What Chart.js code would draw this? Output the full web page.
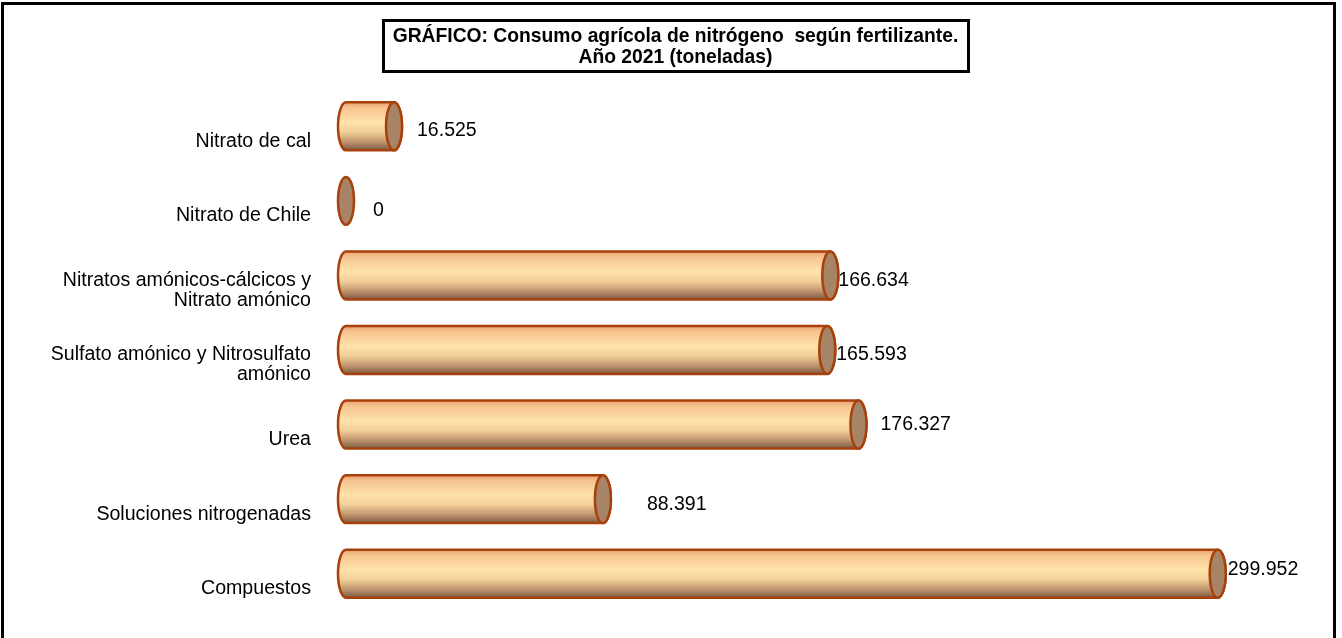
<!DOCTYPE html>
<html>
<head>
<meta charset="utf-8">
<script src="https://cdn.jsdelivr.net/npm/chart.js@4/dist/chart.umd.min.js"></script>
<style>
  html, body { margin: 0; padding: 0; background: #fff; width: 1342px; height: 638px; overflow: hidden; }
  #frame { position: absolute; left: 1px; top: 2px; width: 1335px; height: 700px; border: 3px solid #000; box-sizing: border-box; }
  #wrap { position: absolute; left: 0; top: 0; width: 1342px; height: 638px; }
</style>
</head>
<body>
<div id="frame"></div>
<div id="wrap"><canvas id="c" width="1342" height="638"></canvas></div>
<script>
const categories = [
  'Nitrato de cal',
  'Nitrato de Chile',
  ['Nitratos amónicos-cálcicos y', 'Nitrato amónico'],
  ['Sulfato amónico y Nitrosulfato', 'amónico'],
  'Urea',
  'Soluciones nitrogenadas',
  'Compuestos'
];
const values = [16.525, 0, 166.634, 165.593, 176.327, 88.391, 299.952];
const valueLabels = ['16.525', '0', '166.634', '165.593', '176.327', '88.391', '299.952'];
const titleLines = ['GRÁFICO: Consumo agrícola de nitrógeno  según fertilizante.', 'Año 2021 (toneladas)'];
// label placement offsets (px) relative to the bar end, as in the original
const labelDx = [23, 27, 8, 9, 22, 44, 10];
const labelDy = [4, 10, 5, 5, 0, 5, -4];

const FONT = '"Liberation Sans", Arial, sans-serif';

const cylinderPlugin = {
  id: 'cylinders',
  afterDatasetsDraw(chart) {
    const ctx = chart.ctx;
    const meta = chart.getDatasetMeta(0);
    const rx = 8;
    meta.data.forEach((bar, i) => {
      const { x, y, base, height } = bar.getProps(['x', 'y', 'base', 'height'], true);
      const ry = height / 2;
      const top = y - ry, bot = y + ry;
      ctx.save();
      ctx.lineWidth = 2.5;
      ctx.strokeStyle = '#A8400C';
      if (x - base > 0.5) {
        const g = ctx.createLinearGradient(0, top, 0, bot);
        g.addColorStop(0, '#E8A070');
        g.addColorStop(0.12, '#F6C490');
        g.addColorStop(0.42, '#FFE3A9');
        g.addColorStop(0.62, '#F2CF98');
        g.addColorStop(0.82, '#C19670');
        g.addColorStop(1, '#7A5A42');
        ctx.beginPath();
        ctx.moveTo(base, top);
        ctx.lineTo(x, top);
        ctx.ellipse(x, y, rx, ry, 0, -Math.PI / 2, Math.PI / 2, false);
        ctx.lineTo(base, bot);
        ctx.ellipse(base, y, rx, ry, 0, Math.PI / 2, Math.PI * 1.5, false);
        ctx.closePath();
        ctx.fillStyle = g;
        ctx.fill();
        ctx.stroke();
      }
      ctx.beginPath();
      ctx.ellipse(x, y, rx, ry, 0, 0, Math.PI * 2);
      ctx.fillStyle = '#A88466';
      ctx.fill();
      ctx.stroke();
      // value label
      ctx.fillStyle = '#000';
      ctx.font = '19.5px ' + FONT;
      ctx.textAlign = 'left';
      ctx.textBaseline = 'middle';
      ctx.fillText(valueLabels[i], x + labelDx[i], y + labelDy[i]);
      ctx.restore();
    });
  },
  afterDraw(chart) {
    const ctx = chart.ctx;
    ctx.save();
    ctx.lineWidth = 3;
    ctx.strokeStyle = '#000';
    ctx.strokeRect(383.5, 20.5, 585, 51);
    ctx.fillStyle = '#000';
    ctx.font = 'bold 19.3px ' + FONT;
    ctx.textAlign = 'center';
    ctx.textBaseline = 'alphabetic';
    ctx.fillText(titleLines[0], 675.5, 42);
    ctx.fillText(titleLines[1], 675.5, 63);
    ctx.restore();
  }
};

new Chart(document.getElementById('c'), {
  type: 'bar',
  data: {
    labels: categories,
    datasets: [{
      data: values,
      backgroundColor: 'rgba(0,0,0,0)',
      borderWidth: 0,
      categoryPercentage: 1,
      barPercentage: 0.643
    }]
  },
  options: {
    indexAxis: 'y',
    responsive: false,
    animation: false,
    devicePixelRatio: 1,
    layout: { padding: { left: 0, right: 66, top: 89, bottom: 27 } },
    plugins: {
      legend: { display: false },
      tooltip: { enabled: false },
      title: { display: false }
    },
    scales: {
      x: { display: false, min: 0, max: 320 },
      y: {
        grid: { display: false, drawTicks: false },
        border: { display: false },
        afterFit(scale) { scale.width = 346; scale.paddingTop = 0; scale.paddingBottom = 0; },
        ticks: {
          color: '#000',
          font: { family: FONT, size: 19.6, lineHeight: 1.02 },
          padding: 35,
          labelOffset: 15,
          autoSkip: false
        }
      }
    }
  },
  plugins: [cylinderPlugin]
});
</script>
</body>
</html>
